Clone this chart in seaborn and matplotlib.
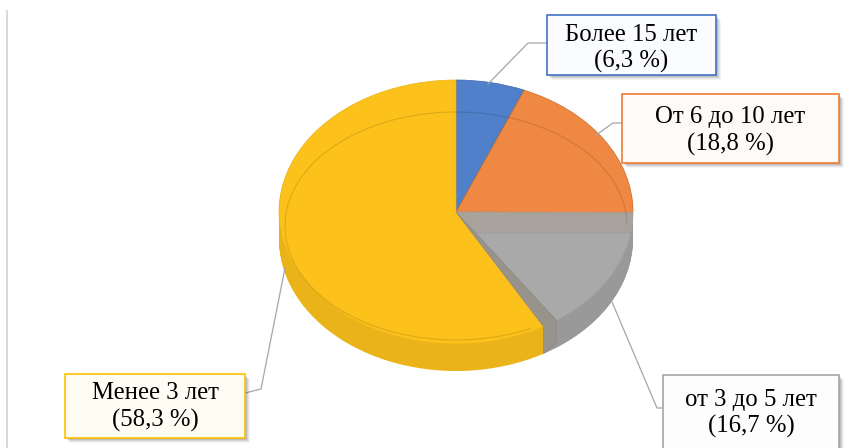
import numpy as np
import matplotlib
matplotlib.use("Agg")
import matplotlib.pyplot as plt
import seaborn as sns
from matplotlib.patches import Rectangle, Polygon, Arc

# ---- data -------------------------------------------------------------
categories = ["Более 15 лет", "От 6 до 10 лет", "от 3 до 5 лет", "Менее 3 лет"]
shares = [6.3, 18.8, 16.7, 58.3]
share_labels = ["(6,3 %)", "(18,8 %)", "(16,7 %)", "(58,3 %)"]

top_colors = ["#5080C9", "#EE8843", "#A9A9A9", "#FCC21B"]
side_colors = ["#3D66AC", "#CF6E2D", "#999999", "#EBB31A"]
border_colors = ["#4472C4", "#ED7D31", "#A5A5A5", "#FFC000"]
box_fills = ["#FAFCFF", "#FEFAF7", "#FDFDFD", "#FFFCF4"]

# ---- layout (pixels) --------------------------------------------------
W, H = 849, 448
CX, CY = 456, 212          # centre of the top ellipse
RX, RY = 177, 132          # semi-axes of the top ellipse
DEPTH = 27                 # thickness of the disc
SINK = 21                  # how far the grey slice sits below the others

boxes = [  # x0, y0, x1, y1, y of line 1, y of line 2
    (547, 15, 716, 75, 35, 61),
    (622, 94, 839, 163, 117, 144),
    (663, 375, 839, 460, 400, 426),
    (65, 374, 245, 438, 393, 420),
]
leaders = [
    [(488, 84), (528, 43), (547, 43)],
    [(596, 135), (613, 123), (622, 123)],
    [(612, 302), (657, 408), (663, 408)],
    [(285, 268), (261, 389), (245, 393)],
]

sns.set_theme(style="white")
plt.rcParams["font.family"] = ["Liberation Serif", "DejaVu Serif"]

fig = plt.figure(figsize=(W / 100, H / 100), dpi=100)
fig.patch.set_facecolor("white")
ax = fig.add_axes([0, 0, 1, 1])


def to_data(px, py):
    """pixel position -> pie data units (unit circle = top ellipse)"""
    return ((px - CX) / RX, (CY - py) / RY)


pie_kw = dict(startangle=90, counterclock=False, radius=1)

# side wall: stacked copies of the disc, deepest first
dz = DEPTH / RY
for k in np.linspace(dz, 0, 30)[:-1]:
    ax.pie(shares, colors=side_colors, center=(0, -k),
           wedgeprops=dict(linewidth=0), **pie_kw)

# top face
wedges, _ = ax.pie(shares, colors=top_colors, wedgeprops=dict(linewidth=0), **pie_kw)
for w, c in zip(wedges, side_colors):
    w.set_edgecolor(c)
    w.set_linewidth(0.5)

# slice boundary angles (degrees, matplotlib convention)
fr = np.array(shares) / np.sum(shares)
bounds = 90 - 360 * np.concatenate([[0], np.cumsum(fr)])
t_start, t_end = bounds[2], bounds[3]      # grey slice spans t_start -> t_end

# grey slice sits lower: the exposed wall of its neighbour fills the wedge
wedges[2].set_facecolor("#A8A29D")
wedges[2].set_edgecolor("#A8A29D")

sink = SINK / RY
g_ang = np.radians(t_end + 5)
G = np.array([np.cos(g_ang), np.sin(g_ang)])
R3 = np.array([np.cos(np.radians(t_end)), np.sin(np.radians(t_end))])
P = G * (sink / -G[1])                     # point on C->G at the sunken level
phi1 = np.degrees(np.arcsin(-sink))
arc = np.radians(np.linspace(phi1, np.degrees(g_ang), 60))
face = np.vstack([P, np.column_stack([np.cos(arc), np.sin(arc)])])
ax.add_patch(Polygon(face, closed=True, facecolor=top_colors[2],
                     edgecolor="#9C9C9C", linewidth=0.5, zorder=3))

# radial wall of the large slice, seen in the gap
strip = np.array([[0, 0], G, G + [0, -0.8 * dz], R3 + [0, -dz], R3])
ax.add_patch(Polygon(strip, closed=True, facecolor="#97928A",
                     edgecolor="#8E8A82", linewidth=0.4, zorder=3))

# faint bevel ring on the top face
rc = to_data(CX, 226)
ax.add_patch(Arc(rc, 2 * 171 / RX, 2 * 114 / RY, theta1=t_start + 1, theta2=360 + t_end - 1,
                 color="black", alpha=0.13, linewidth=0.8, zorder=3))

ax.set_aspect("auto")
ax.set_xlim(-CX / RX, (W - CX) / RX)
ax.set_ylim(-(H - CY) / RY, CY / RY)
ax.axis("off")

# ---- callouts (pixel overlay) -----------------------------------------
ov = fig.add_axes([0, 0, 1, 1], facecolor="none")
ov.set_xlim(0, W)
ov.set_ylim(H, 0)
ov.axis("off")

ov.plot([7.5, 7.5], [10, H], color="#D9D9D9", linewidth=1.4, solid_capstyle="butt")

for pts in leaders:
    xs, ys = zip(*pts)
    ov.plot(xs, ys, color="#A6A6A6", linewidth=0.9)

for (x0, y0, x1, y1, l1, l2), cat, lab, bc, fc in zip(boxes, categories, share_labels,
                                                     border_colors, box_fills):
    for s, a in [(5, 0.04), (4, 0.06), (3, 0.08), (2, 0.1)]:
        ov.add_patch(Rectangle((x0 + s, y0 + s), x1 - x0, y1 - y0, facecolor="black",
                               edgecolor="none", alpha=a, zorder=4))
    ov.add_patch(Rectangle((x0, y0), x1 - x0, y1 - y0, facecolor=fc, edgecolor=bc,
                           linewidth=1.2, zorder=5))
    xm = (x0 + x1) / 2
    ov.text(xm, l1, cat, ha="center", va="center", fontsize=17.8, color="black", zorder=6)
    ov.text(xm, l2, lab, ha="center", va="center", fontsize=17.8, color="black", zorder=6)

fig.savefig("out.png", dpi=100, facecolor="white")
